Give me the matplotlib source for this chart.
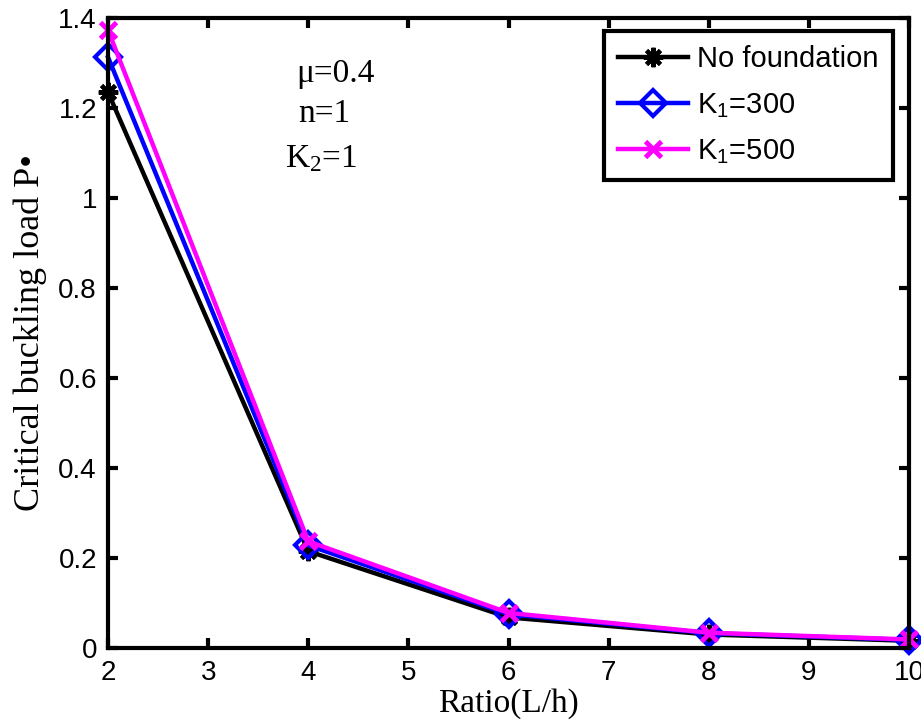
import matplotlib.pyplot as plt

ratio = [2, 4, 6, 8, 10]
no_foundation = [1.235, 0.215, 0.068, 0.030, 0.016]
k1_300 = [1.313, 0.228, 0.075, 0.033, 0.018]
k1_500 = [1.373, 0.237, 0.078, 0.034, 0.019]

fig = plt.figure(figsize=(9.21, 7.28), dpi=100)
ax = fig.add_axes([0.1173, 0.1099, 0.8697, 0.8653])

ax.plot(ratio, no_foundation, c='black', lw=3.2, marker=(8, 2, 0), ms=14, mew=3, label='No foundation', clip_on=False)
ax.plot(ratio, k1_300, c='blue', lw=3.2, marker='D', ms=13, mfc='none', mew=3, label=r'$\mathregular{K_1}$=300', clip_on=False)
ax.plot(ratio, k1_500, c='magenta', lw=3.2, marker='x', ms=12, mew=3.5, label=r'$\mathregular{K_1}$=500', clip_on=False)

ax.set_xlim(2, 10)
ax.set_ylim(0, 1.4)
ax.set_xticks(range(2, 11))
ax.set_yticks([0, 0.2, 0.4, 0.6, 0.8, 1, 1.2, 1.4])
ax.set_yticklabels(['0', '0.2', '0.4', '0.6', '0.8', '1', '1.2', '1.4'])
for lab in ax.get_xticklabels() + ax.get_yticklabels():
    lab.set_fontfamily('Liberation Sans')
    lab.set_fontsize(20)
ax.tick_params(direction='in', length=7, width=3, top=True, right=True, pad=6)
ax.tick_params(axis='x', pad=9)
ax.tick_params(axis='y', pad=8)
for sp in ax.spines.values():
    sp.set_linewidth(3)

ax.set_xlabel('Ratio(L/h)', family='Liberation Serif', fontsize=24, labelpad=1)
ax.set_ylabel('Critical buckling load P\u2022', family='Liberation Serif', fontsize=26, labelpad=8)

ax.text(0.235, 0.912, '\u03bc=0.4', transform=ax.transAxes, family='Liberation Serif', fontsize=24, va='center')
ax.text(0.237, 0.848, 'n=1', transform=ax.transAxes, family='Liberation Serif', fontsize=24, va='center')
ax.text(0.221, 0.777, r'$\mathregular{K_2}$=1', transform=ax.transAxes, family='Liberation Serif', fontsize=24, va='center')

leg = ax.legend(loc='upper right', bbox_to_anchor=(0.98, 0.98), prop={'family': 'Liberation Sans', 'size': 21},
                fancybox=False, edgecolor='black', framealpha=1, handlelength=2.4, borderpad=0.5,
                labelspacing=0.6, handletextpad=0.3, borderaxespad=0)
leg.get_frame().set_linewidth(3)

fig.savefig('out.png', dpi=100)
